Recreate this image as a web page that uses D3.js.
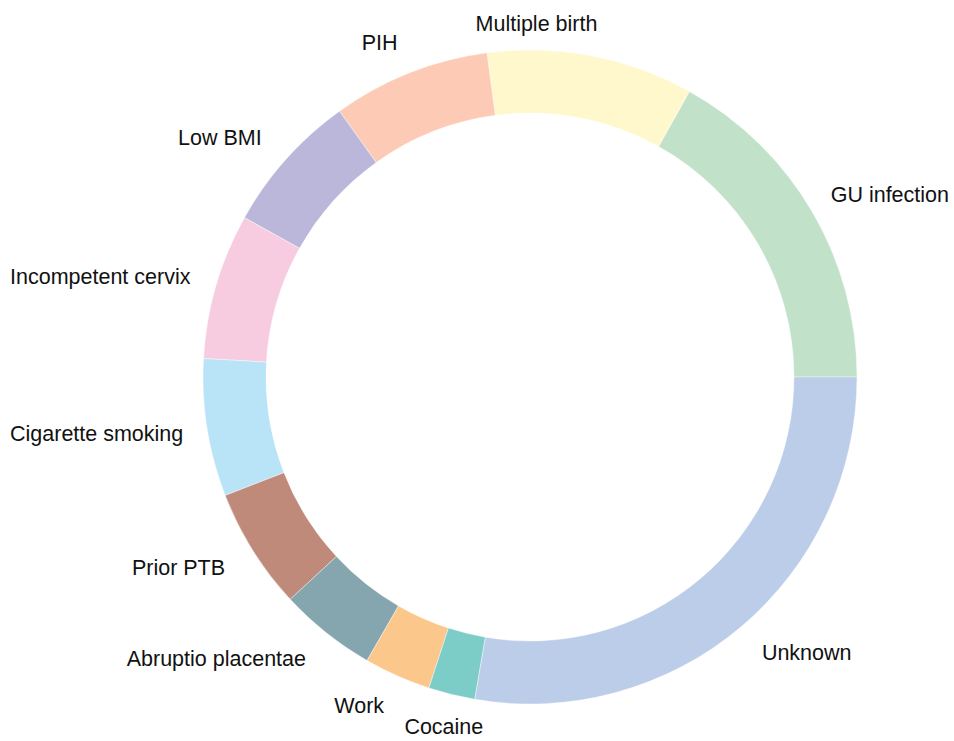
<!DOCTYPE html>
<html>
<head>
<meta charset="utf-8">
<script src="https://cdn.jsdelivr.net/npm/d3@7"></script>
<style>
  html, body { margin: 0; padding: 0; background: #fff; }
  svg text { font-family: "Liberation Sans", Arial, Helvetica, sans-serif; }
</style>
</head>
<body>
<div id="frame"></div>
<script>
'use strict'

// slices, counterclockwise from 3 o'clock (share in %)
var causes = ["GU infection", "Multiple birth", "PIH", "Low BMI", "Incompetent cervix",
  "Cigarette smoking", "Prior PTB", "Abruptio placentae", "Work", "Cocaine", "Unknown"]
var shares = [16.9, 10.2, 7.8, 7.0, 7.2, 6.8, 6.0, 4.8, 3.3, 2.3, 27.7]
var colours = ["#c1e1c9", "#fff8cc", "#fccab5", "#bbb7da", "#f8cce0",
  "#b9e4f8", "#c08a7a", "#85a6ae", "#fbc78a", "#7ccdc7", "#bbcde9"]

var width = 954, height = 741
var cx = 530, cy = 377
var outerR = 327, innerR = 264

var svg = d3.select("#frame")
  .append("svg")
  .attr("width", width)
  .attr("height", height)

var g = svg.append("g")
  .attr("transform", "translate(" + cx + "," + cy + ")")

var rows = causes.map((c, i) => ({ name: c, value: shares[i], colour: colours[i] }))

// start at 3 o'clock and run counterclockwise like the original
var pie = d3.pie()
  .sort(null)
  .value(d => d.value)
  .startAngle(Math.PI / 2)
  .endAngle(Math.PI / 2 - 2 * Math.PI)

var arc = d3.arc().innerRadius(innerR).outerRadius(outerR)
var labelArc = d3.arc().innerRadius(outerR * 1.1).outerRadius(outerR * 1.1)

var arcs = pie(rows)

g.selectAll("path.slice")
  .data(arcs)
  .enter().append("path")
  .attr("class", "slice")
  .attr("d", arc)
  .attr("fill", d => d.data.colour)
  .attr("stroke", "#fff")
  .attr("stroke-width", 0.4)

// which way a label hangs off its anchor point
function anchorFor(d) {
  var mid = (d.startAngle + d.endAngle) / 2
  var theta = Math.PI / 2 - mid          // ccw from east
  var deg = ((theta * 180 / Math.PI) % 360 + 360) % 360
  if (deg > 250 && deg < 290) return "middle"
  return Math.cos((deg + 15) * Math.PI / 180) > 0 ? "start" : "end"
}

var labels = g.selectAll("text.label")
  .data(arcs)
  .enter().append("text")
  .attr("class", "label")
  .attr("font-size", "21.5px")
  .attr("fill", "#111")
  .attr("dy", "0.35em")
  .attr("text-anchor", anchorFor)
  .attr("x", d => labelArc.centroid(d)[0])
  .attr("y", d => labelArc.centroid(d)[1])
  .text(d => d.data.name)

// keep labels inside the picture
labels.each(function() {
  var b = this.getBBox()
  var left = cx + b.x, right = cx + b.x + b.width
  var x = +d3.select(this).attr("x")
  if (left < 10) d3.select(this).attr("x", x + (10 - left))
  else if (right > width - 5) d3.select(this).attr("x", x - (right - (width - 5)))
})
</script>
</body>
</html>
